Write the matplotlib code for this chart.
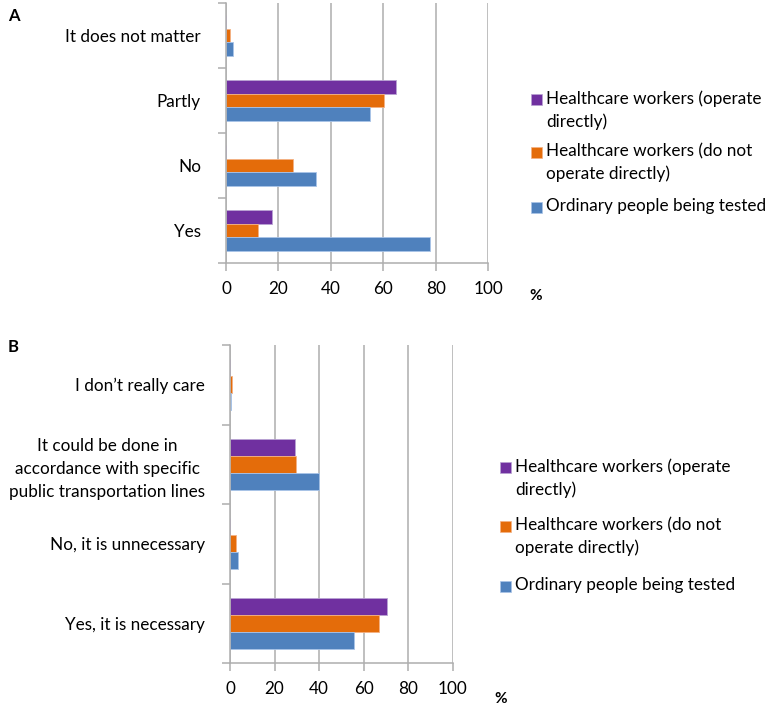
import numpy as np
import matplotlib.pyplot as plt
from matplotlib.patches import Rectangle

plt.rcParams['font.family'] = ['Lato', 'DejaVu Sans']

# dane - panel A
cats_a = ["Yes", "No", "Partly", "It does not matter"]
ordinary_a = [77.9, 34.4, 55.1, 2.7]
not_direct_a = [12.2, 25.4, 60.4, 1.5]
direct_a = [17.6, 0, 64.8, 0]

# dane - panel B
cats_b = ["Yes, it is necessary", "No, it is unnecessary",
          "It could be done in\naccordance with specific\npublic transportation lines",
          "I don\u2019t really care"]
ordinary_b = [55.8, 3.6, 40.1, 0.6]
not_direct_b = [66.8, 2.7, 29.6, 0.7]
direct_b = [70.6, 0, 29.3, 0]

series_names = ["Healthcare workers (operate\ndirectly)",
                "Healthcare workers (do not\noperate directly)",
                "Ordinary people being tested"]
colors = ['#7030A0', '#E46C0A', '#4F81BD']
edges = ['#B9A3D3', '#F4B183', '#A9C4E8']
xticks = [0, 20, 40, 60, 80, 100]
grid_col = '#AEAEAE'
fs = 12.3

fig = plt.figure(figsize=(7.67, 7.07), dpi=100)


def draw_panel(rect, cats, direct, not_direct, ordinary):
    ax = fig.add_axes(rect)
    y = np.arange(len(cats))
    h = 0.215
    ax.barh(y + h, direct, height=h, color=colors[0], edgecolor=edges[0], linewidth=0.6)
    ax.barh(y, not_direct, height=h, color=colors[1], edgecolor=edges[1], linewidth=0.6)
    ax.barh(y - h, ordinary, height=h, color=colors[2], edgecolor=edges[2], linewidth=0.6)
    ax.set_xlim(0, 100)
    ax.set_ylim(-0.5, len(cats) - 0.5)
    ax.set_xticks(xticks)
    ax.set_xticklabels([str(v) for v in xticks], fontsize=fs)
    ax.set_yticks(y)
    ax.set_yticklabels(cats, fontsize=fs, multialignment='center', linespacing=1.55)
    ax.set_yticks(np.arange(len(cats) + 1) - 0.5, minor=True)
    ax.tick_params(axis='y', which='major', length=0, pad=18)
    ax.tick_params(axis='y', which='minor', length=6, width=1.1, color=grid_col)
    ax.tick_params(axis='x', length=6, width=1.1, color=grid_col, pad=7)
    ax.grid(axis='x', color=grid_col, linewidth=1.1)
    ax.set_axisbelow(True)
    for s in ['top', 'right']:
        ax.spines[s].set_visible(False)
    for s in ['left', 'bottom']:
        ax.spines[s].set_color(grid_col)
        ax.spines[s].set_linewidth(1.1)
    return ax


def draw_legend(x, ys):
    for c, e, name, yy in zip(colors, edges, series_names, ys):
        fig.add_artist(Rectangle((x / 767, 1 - (yy + 5) / 707), 11 / 767, 11 / 707,
                                 transform=fig.transFigure, facecolor=c, edgecolor=e, linewidth=0.5))
        fig.text((x + 15) / 767, 1 - (yy - 10) / 707, name, fontsize=fs, va='top',
                 linespacing=1.5)


draw_panel([226 / 767, 1 - 263 / 707, 262 / 767, 260 / 707],
           cats_a, direct_a, not_direct_a, ordinary_a)
draw_panel([230 / 767, 1 - 663 / 707, 222.7 / 767, 318 / 707],
           cats_b, direct_b, not_direct_b, ordinary_b)

draw_legend(531, [100, 153, 208])
draw_legend(500, [468, 527, 587])

fig.text(8 / 767, 1 - 16 / 707, "A", fontsize=12, fontweight='bold', va='center')
fig.text(8 / 767, 1 - 347 / 707, "B", fontsize=12, fontweight='bold', va='center')
fig.text(536 / 767, 1 - 296 / 707, "%", fontsize=11, fontweight='bold', va='center', ha='center')
fig.text(501 / 767, 1 - 699 / 707, "%", fontsize=11, fontweight='bold', va='center', ha='center')

plt.savefig('out.png', dpi=100)
